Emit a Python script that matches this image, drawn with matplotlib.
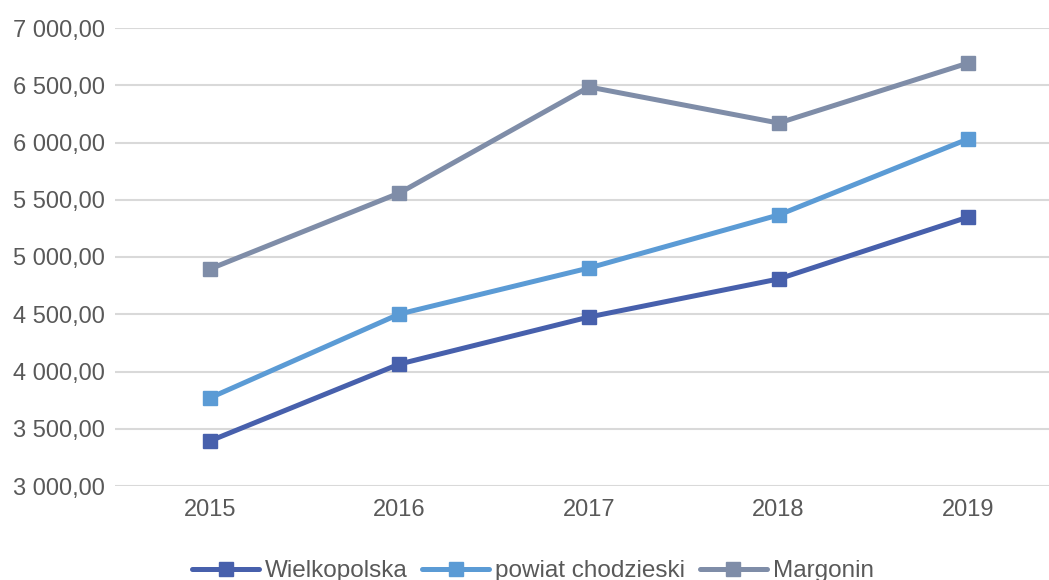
import matplotlib.pyplot as plt
from matplotlib.ticker import FuncFormatter

plt.rcParams['font.family'] = ['Liberation Sans', 'DejaVu Sans']

years = ["2015", "2016", "2017", "2018", "2019"]
wielkopolska = [3393, 4065, 4476, 4808, 5349]
powiat = [3769, 4502, 4904, 5367, 6031]
margonin = [4895, 5559, 6485, 6170, 6694]

series = [
    ("Wielkopolska", wielkopolska, "#4760AC"),
    ("powiat chodzieski", powiat, "#5B9BD5"),
    ("Margonin", margonin, "#7F8DA8"),
]


def pl_format(v, pos):
    s = "{:,.2f}".format(v)
    return s.replace(",", " ").replace(".", ",")


fig = plt.figure(figsize=(10.49, 5.80), dpi=100)
ax = fig.add_axes([115 / 1049, 1 - 486 / 580, 948 / 1049, 458 / 580])

x = list(range(len(years)))
for name, vals, col in series:
    ax.plot(x, vals, color=col, lw=3.6, marker="s", markersize=10,
            label=name, solid_capstyle="round")

ax.set_xlim(-0.5, 4.5)
ax.set_ylim(3000, 7000)
ax.set_yticks(range(3000, 7001, 500))
ax.yaxis.set_major_formatter(FuncFormatter(pl_format))
ax.set_xticks(x)
ax.set_xticklabels(years)
ax.grid(axis="y", color="#D9D9D9", lw=1.5)
ax.set_axisbelow(True)
for sp in ax.spines.values():
    sp.set_visible(False)
ax.tick_params(length=0, labelsize=17, colors="#595959")
ax.tick_params(axis="x", pad=9)
ax.tick_params(axis="y", pad=7)

leg = fig.legend(loc="center", bbox_to_anchor=(533 / 1049, 1 - 571 / 580), ncol=3,
                 frameon=False, fontsize=17.5, handlelength=2.75, columnspacing=0.6,
                 handletextpad=0.25, borderpad=0)
for t in leg.get_texts():
    t.set_color("#595959")

fig.savefig("out.png", dpi=100)
